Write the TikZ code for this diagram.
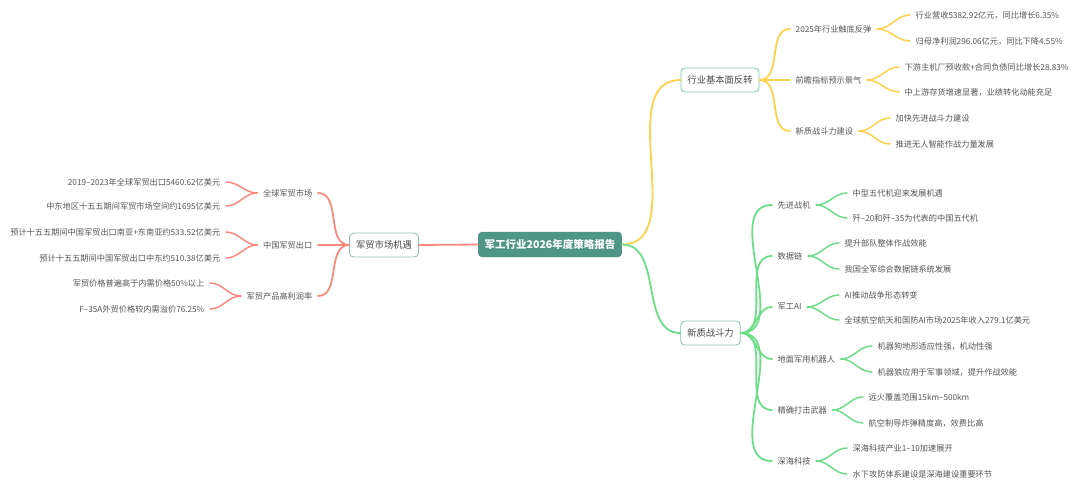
\documentclass[tikz,border=0pt]{standalone}
\usepackage{fontspec}
\setmainfont{Noto Sans CJK SC}
\usepackage{xcolor}
\definecolor{mmTeal}{HTML}{4F9686}
\definecolor{mmTealLine}{HTML}{8DBFB2}
\definecolor{mmText}{HTML}{555555}
\definecolor{mmYellow}{HTML}{FCD24C}
\definecolor{mmGreen}{HTML}{6EDD8A}
\definecolor{mmRed}{HTML}{F98A7E}

\begin{document}
\begin{tikzpicture}[x=1pt,y=-1pt]
  \tikzset{
    rootbox/.style={font=\fontsize{10.5}{12}\selectfont\bfseries,text=white,fill=mmTeal,draw=mmTeal,rounded corners=4pt,minimum height=25pt,inner xsep=6.5pt},
    mainbox/.style={font=\fontsize{9.3}{11}\selectfont,text=mmText!85!black,fill=white,draw=mmTealLine,line width=0.8pt,rounded corners=4pt,minimum height=24pt,inner xsep=6.5pt},
    sub/.style={font=\fontsize{8.2}{10}\selectfont,text=mmText,inner xsep=5.5pt,inner ysep=2pt},
    leaf/.style={font=\fontsize{8.2}{10}\selectfont,text=mmText,inner xsep=5.5pt,inner ysep=2pt},
    branch/.style={line width=1.8pt,line cap=round},
    twig/.style={line width=1.5pt,line cap=round}
  }
  \useasboundingbox (0,0) rectangle (1080,491);

  % centre and main topics
  \node[rootbox] (root) at (550,244.5) {军工行业2026年度策略报告};
  \node[mainbox] (trade) at (384,245) {军贸市场机遇};
  \node[mainbox] (basis) at (720,80) {行业基本面反转};
  \node[mainbox] (force) at (710.5,333) {新质战斗力};

  \draw[branch,mmRed] (root.west) -- (trade.east);
  \draw[branch,mmYellow] (root.east) to[out=0,in=180] (basis.west);
  \draw[branch,mmGreen] (root.east) to[out=0,in=180] (force.west);

  % left side: trade
  \node[sub,anchor=east] (tr1) at (318,193) {全球军贸市场};
  \node[sub,anchor=east] (tr2) at (318,245) {中国军贸出口};
  \node[sub,anchor=east] (tr3) at (318,296) {军贸产品高利润率};
  \foreach \s in {tr1,tr2,tr3}
    {\draw[branch,mmRed] (trade.west) to[out=180,in=0] (\s.east);}

  \node[leaf,anchor=east] (tr1a) at (226,182) {2019–2023年全球军贸出口5460.62亿美元};
  \node[leaf,anchor=east] (tr1b) at (226,206) {中东地区十五五期间军贸市场空间约1695亿美元};
  \node[leaf,anchor=east] (tr2a) at (226,232) {预计十五五期间中国军贸出口南亚+东南亚约533.52亿美元};
  \node[leaf,anchor=east] (tr2b) at (226,258) {预计十五五期间中国军贸出口中东约510.38亿美元};
  \node[leaf,anchor=east] (tr3a) at (210,283) {军贸价格普遍高于内需价格50\%以上};
  \node[leaf,anchor=east] (tr3b) at (210,309) {F–35A外贸价格较内需溢价76.25\%};
  \foreach \s/\l in {tr1/tr1a,tr1/tr1b,tr2/tr2a,tr2/tr2b,tr3/tr3a,tr3/tr3b}
    {\draw[twig,mmRed] (\s.west) to[out=180,in=0] (\l.east);}

  % right top: basis
  \node[sub,anchor=west] (ba1) at (790,29) {2025年行业触底反弹};
  \node[sub,anchor=west] (ba2) at (790,80) {前瞻指标预示景气};
  \node[sub,anchor=west] (ba3) at (790,131) {新质战斗力建设};
  \foreach \s in {ba1,ba2,ba3}
    {\draw[branch,mmYellow] (basis.east) to[out=0,in=180] (\s.west);}

  \node[leaf,anchor=west] (ba1a) at (910,15) {行业营收5382.92亿元，同比增长6.35\%};
  \node[leaf,anchor=west] (ba1b) at (910,41) {归母净利润296.06亿元，同比下降4.55\%};
  \node[leaf,anchor=west] (ba2a) at (899,67) {下游主机厂预收款+合同负债同比增长28.83\%};
  \node[leaf,anchor=west] (ba2b) at (899,92) {中上游存货增速显著，业绩转化动能充足};
  \node[leaf,anchor=west] (ba3a) at (890,118) {加快先进战斗力建设};
  \node[leaf,anchor=west] (ba3b) at (890,144) {推进无人智能作战力量发展};
  \foreach \s/\l in {ba1/ba1a,ba1/ba1b,ba2/ba2a,ba2/ba2b,ba3/ba3a,ba3/ba3b}
    {\draw[twig,mmYellow] (\s.east) to[out=0,in=180] (\l.west);}

  % right bottom: force
  \node[sub,anchor=west] (fo1) at (772,205) {先进战机};
  \node[sub,anchor=west] (fo2) at (772,256) {数据链};
  \node[sub,anchor=west] (fo3) at (772,307) {军工AI};
  \node[sub,anchor=west] (fo4) at (772,359) {地面军用机器人};
  \node[sub,anchor=west] (fo5) at (772,410) {精确打击武器};
  \node[sub,anchor=west] (fo6) at (772,461) {深海科技};
  \foreach \s in {fo1,fo2,fo3,fo4,fo5,fo6}
    {\draw[branch,mmGreen] (force.east) to[out=0,in=180] (\s.west);}

  \node[leaf,anchor=west] (fo1a) at (847,193) {中型五代机迎来发展机遇};
  \node[leaf,anchor=west] (fo1b) at (847,218) {歼–20和歼–35为代表的中国五代机};
  \node[leaf,anchor=west] (fo2a) at (839,243) {提升部队整体作战效能};
  \node[leaf,anchor=west] (fo2b) at (839,269) {我国全军综合数据链系统发展};
  \node[leaf,anchor=west] (fo3a) at (839,295) {AI推动战争形态转变};
  \node[leaf,anchor=west] (fo3b) at (839,320) {全球航空航天和国防AI市场2025年收入279.1亿美元};
  \node[leaf,anchor=west] (fo4a) at (872,346) {机器狗地形适应性强，机动性强};
  \node[leaf,anchor=west] (fo4b) at (872,372) {机器狼应用于军事领域，提升作战效能};
  \node[leaf,anchor=west] (fo5a) at (863,397) {远火覆盖范围15km–500km};
  \node[leaf,anchor=west] (fo5b) at (863,423) {航空制导炸弹精度高，效费比高};
  \node[leaf,anchor=west] (fo6a) at (847,448) {深海科技产业1–10加速展开};
  \node[leaf,anchor=west] (fo6b) at (847,474) {水下攻防体系建设是深海建设重要环节};
  \foreach \s/\l in {fo1/fo1a,fo1/fo1b,fo2/fo2a,fo2/fo2b,fo3/fo3a,fo3/fo3b,fo4/fo4a,fo4/fo4b,fo5/fo5a,fo5/fo5b,fo6/fo6a,fo6/fo6b}
    {\draw[twig,mmGreen] (\s.east) to[out=0,in=180] (\l.west);}
\end{tikzpicture}
\end{document}
